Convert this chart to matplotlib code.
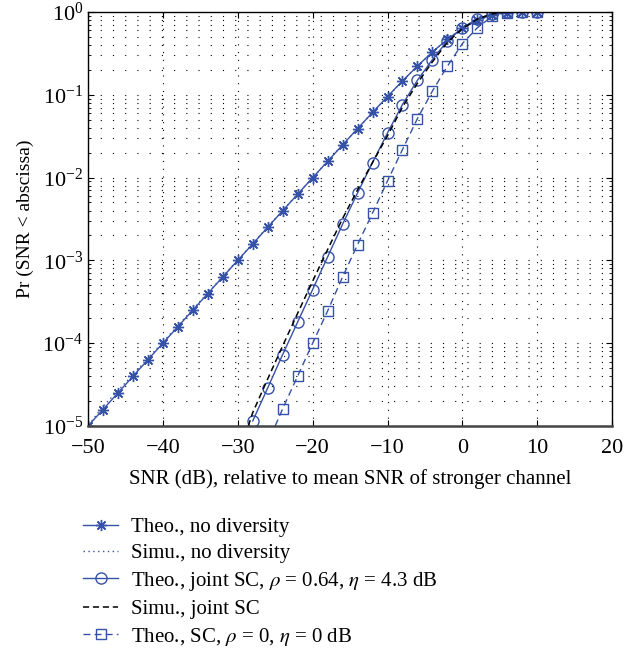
import numpy as np
import matplotlib
matplotlib.use("Agg")
import matplotlib.pyplot as plt

plt.rcParams["font.family"] = ["Liberation Serif", "DejaVu Serif"]
plt.rcParams["mathtext.fontset"] = "stix"

BLUE = "#3552a8"

# Theo., no diversity (markers every 2 dB)
snr_nodiv = [-50, -48, -46, -44, -42, -40, -38, -36, -34, -32, -30, -28, -26, -24, -22, -20,
             -18, -16, -14, -12, -10, -8, -6, -4, -2, 0, 2, 4, 6, 8, 10]
p_nodiv_theo = [1.0e-5, 1.58e-5, 2.51e-5, 3.98e-5, 6.31e-5, 1.0e-4, 1.58e-4, 2.51e-4, 3.98e-4,
                6.31e-4, 1.0e-3, 1.58e-3, 2.51e-3, 3.98e-3, 6.29e-3, 9.95e-3, 1.57e-2, 2.48e-2,
                3.90e-2, 6.11e-2, 9.52e-2, 0.147, 0.222, 0.329, 0.467, 0.632, 0.795, 0.920,
                0.981, 0.998, 1.0]

# Simu., no diversity
snr_nodiv_sim = [-49.5, -48, -46, -44, -42, -40, -38, -36, -34, -32, -30, -28, -26, -24, -22, -20,
                 -18, -16, -14, -12, -10, -8, -6, -4, -2, 0, 2, 4, 6, 8, 10, 12]
p_nodiv_sim = [1.15e-5, 1.72e-5, 2.68e-5, 4.15e-5, 6.55e-5, 1.03e-4, 1.63e-4, 2.56e-4, 4.05e-4,
               6.4e-4, 1.01e-3, 1.6e-3, 2.53e-3, 4.0e-3, 6.32e-3, 1.0e-2, 1.57e-2, 2.49e-2,
               3.91e-2, 6.12e-2, 9.5e-2, 0.147, 0.222, 0.330, 0.468, 0.632, 0.795, 0.920,
               0.981, 0.998, 1.0, 1.0]

# Theo., joint SC, rho = 0.64, eta = 4.3 dB
snr_joint = [-28, -26, -24, -22, -20, -18, -16, -14, -12, -10, -8, -6, -4, -2, 0, 2, 4, 6, 8, 10]
p_joint_theo = [1.15e-5, 2.88e-5, 7.3e-5, 1.80e-4, 4.44e-4, 1.10e-3, 2.73e-3, 6.52e-3, 1.52e-2,
                3.46e-2, 7.62e-2, 0.150, 0.266, 0.447, 0.641, 0.83, 0.95, 0.99, 1.0, 1.0]

# Simu., joint SC
snr_joint_sim = [-28.6, -28, -26, -24, -22, -20, -18, -16, -14, -12, -10, -8, -6, -4, -2, 0,
                 2, 4, 6, 8, 10]
p_joint_sim = [1.0e-5, 1.45e-5, 3.7e-5, 9.3e-5, 2.3e-4, 5.6e-4, 1.35e-3, 3.2e-3, 7.1e-3,
               1.52e-2, 3.2e-2, 7.1e-2, 0.138, 0.25, 0.43, 0.63, 0.82, 0.95, 0.99, 1.0, 1.0]

# Theo., SC, rho = 0, eta = 0 dB (line starts at the bottom edge)
snr_sc = [-25, -24, -22, -20, -18, -16, -14, -12, -10, -8, -6, -4, -2, 0, 2, 4, 6, 8, 10]
p_sc_theo = [1.0e-5, 1.62e-5, 4.0e-5, 1.0e-4, 2.45e-4, 6.3e-4, 1.55e-3, 3.73e-3, 9.1e-3,
             2.18e-2, 5.16e-2, 0.111, 0.221, 0.415, 0.645, 0.887, 0.98, 1.0, 1.0]

x_ticks = [-50, -40, -30, -20, -10, 0, 10, 20]


def main():
    fig = plt.figure(figsize=(6.24, 6.49), dpi=100)
    ax = fig.add_axes([0.141, 0.3436, 0.840, 0.638])

    star = (8, 2, 0)
    ax.plot(snr_nodiv, p_nodiv_theo, "-", color=BLUE, lw=1.0, marker=star, ms=8, mew=1.0,
            label="Theo., no diversity")
    ax.plot(snr_nodiv_sim, p_nodiv_sim, linestyle=(0, (1, 2.5)), color=BLUE, lw=1.0,
            label="Simu., no diversity")
    ax.plot(snr_joint, p_joint_theo, "-", color=BLUE, lw=1.0, marker="o", ms=8, mfc="none",
            mew=1.0, label=r"Theo., joint SC, $\rho$ = 0.64, $\eta$ = 4.3 dB")
    ax.plot(snr_joint_sim, p_joint_sim, linestyle=(0, (4, 2.5)), color="black", lw=1.1,
            label="Simu., joint SC")
    ax.plot(snr_sc, p_sc_theo, linestyle=(0, (5, 3)), color=BLUE, lw=1.0, marker="s", ms=7,
            mfc="none", mew=1.0, markevery=list(range(1, len(snr_sc))),
            label=r"Theo., SC, $\rho$ = 0, $\eta$ = 0 dB")

    ax.set_yscale("log")
    ax.set_xlim(-50, 20)
    ax.set_ylim(1e-5, 1)
    ax.set_xticks(x_ticks)
    ax.set_xticklabels([("\u2212" + str(-t)) if t < 0 else str(t) for t in x_ticks])

    ax.grid(True, which="both", axis="y", color="black", lw=0.8, linestyle=(0, (1, 10)))
    ax.grid(True, which="major", axis="x", color="black", lw=0.8, linestyle=(0, (1, 6)))

    ax.tick_params(which="both", direction="in", top=True, right=True, labelsize=16)
    ax.tick_params(which="major", length=4)
    ax.tick_params(which="minor", length=2)
    ax.tick_params(axis="x", pad=9)
    for side in ["top", "left", "right"]:
        ax.spines[side].set_linewidth(1.0)
    ax.spines["bottom"].set_linewidth(1.8)
    ax.spines["bottom"].set_color("#444444")

    ax.set_xlabel("SNR (dB), relative to mean SNR of stronger channel", fontsize=15, labelpad=8)
    ax.set_ylabel("Pr (SNR < abscissa)", fontsize=14, labelpad=6)

    handles, labels = ax.get_legend_handles_labels()
    fig.legend(handles, labels, loc="upper left", bbox_to_anchor=(0.133, 0.203), frameon=False,
               fontsize=15, handlelength=1.7, handletextpad=0.6, labelspacing=0.32,
               borderpad=0, borderaxespad=0, numpoints=1)

    fig.savefig("out.png", dpi=100)
    plt.close(fig)


if __name__ == "__main__":
    main()
